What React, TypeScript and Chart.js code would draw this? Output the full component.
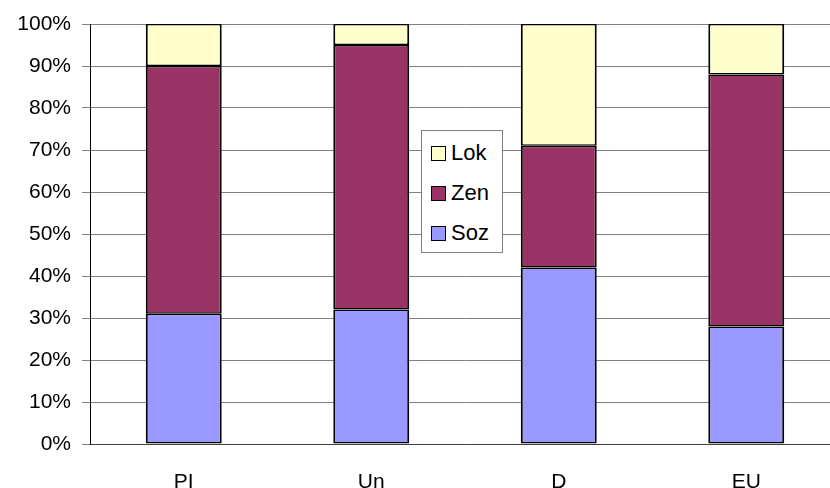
import React, { useEffect, useRef } from "react";
import { Chart, registerables } from "chart.js";

Chart.register(...registerables);

const categories = ["PI", "Un", "D", "EU"];
const soz = [31, 32, 42, 28];
const zen = [59, 63, 29, 60];
const lok = [10, 5, 29, 12];
const yTicks = [0, 10, 20, 30, 40, 50, 60, 70, 80, 90, 100];

const colors = { soz: "#9999FF", zen: "#993366", lok: "#FFFFCC" };
const legendItems = [
  { label: "Lok", color: colors.lok },
  { label: "Zen", color: colors.zen },
  { label: "Soz", color: colors.soz },
];

export default function App() {
  const ref = useRef<HTMLCanvasElement>(null);
  useEffect(() => {
    document.body.style.margin = "0";
    const font = { family: "'Liberation Sans', Arial, sans-serif", size: 21 };
    const ds = {
      borderColor: "#000",
      borderWidth: { left: 2, right: 2, top: 1.5, bottom: 1.5 },
      borderSkipped: false as const,
      categoryPercentage: 1,
      barPercentage: 0.405,
    };
    const chart = new Chart(ref.current!, {
      type: "bar",
      data: {
        labels: categories,
        datasets: [
          { label: "Soz", data: soz, backgroundColor: colors.soz, ...ds },
          { label: "Zen", data: zen, backgroundColor: colors.zen, ...ds },
          { label: "Lok", data: lok, backgroundColor: colors.lok, ...ds },
        ],
      },
      options: {
        animation: false,
        responsive: false,
        layout: { padding: { top: 24, right: 0, left: 0, bottom: 0 } },
        plugins: { legend: { display: false }, tooltip: { enabled: false } },
        scales: {
          x: {
            stacked: true,
            grid: { display: false },
            border: { color: "#404040", width: 1 },
            ticks: { color: "#000", font, padding: 18 },
            afterFit: (s: any) => { s.height = 44; },
          },
          y: {
            stacked: true,
            min: 0,
            max: 100,
            afterBuildTicks: (s: any) => { s.ticks = yTicks.map((v) => ({ value: v })); },
            grid: { color: "#808080", lineWidth: 1, tickLength: 8, tickColor: "#808080" },
            border: { color: "#000", width: 1 },
            ticks: { color: "#000", font, padding: 11, callback: (v: any) => v + "%" },
            afterFit: (s: any) => { s.width = 90; },
          },
        },
      },
    });
    return () => chart.destroy();
  }, []);
  return (
    <div style={{ position: "relative", width: 830, height: 488, overflow: "hidden" }}>
      <canvas ref={ref} width={840} height={488} style={{ display: "block" }} />
      <div
        style={{
          position: "absolute",
          left: 421,
          top: 130,
          width: 80,
          height: 121,
          border: "1px solid #808080",
          background: "#fff",
          fontFamily: "'Liberation Sans', Arial, sans-serif",
          fontSize: 22,
          boxSizing: "content-box",
        }}
      >
        {legendItems.map((it, i) => (
          <div key={it.label} style={{ position: "absolute", left: 9, top: 9 + i * 40, height: 26, display: "flex", alignItems: "center" }}>
            <span style={{ display: "inline-block", width: 13, height: 13, background: it.color, border: "1.5px solid #000", marginRight: 5 }} />
            <span>{it.label}</span>
          </div>
        ))}
      </div>
    </div>
  );
}
